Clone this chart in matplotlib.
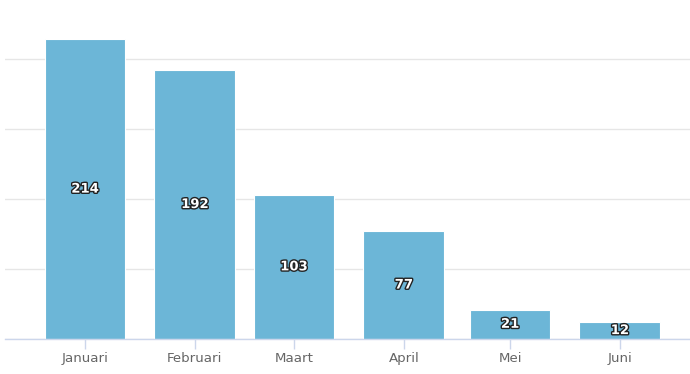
import datetime as dt
import matplotlib
matplotlib.use('Agg')
import matplotlib.pyplot as plt
import matplotlib.dates as mdates
import matplotlib.patheffects as pe

# data
maanden = ['Januari', 'Februari', 'Maart', 'April', 'Mei', 'Juni']
datums = [dt.datetime(2019, m, 1) for m in range(1, 7)]
waarden = [214, 192, 103, 77, 21, 12]

fig = plt.figure(figsize=(6.9, 3.74), dpi=100)
ax = fig.add_axes([5 / 690, 35 / 374, 685 / 690, 339 / 374])

x = mdates.date2num(datums)
bars = ax.bar(x, waarden, width=22.8, color='#6cb6d7', edgecolor='white', linewidth=0.8, zorder=3)

for xi, v in zip(x, waarden):
    ax.text(xi, v / 2, str(v), ha='center', va='center', color='white',
            fontsize=9.5, fontweight='bold', zorder=4,
            path_effects=[pe.withStroke(linewidth=2.0, foreground='#222222')])

ax.set_xlim(x[0] - 22.6, x[-1] + 19.8)
ax.set_ylim(0, 242)
ax.set_yticks([0, 50, 100, 150, 200])
ax.set_yticklabels([])
ax.grid(axis='y', color='#e6e6e6', linewidth=1, zorder=0)
ax.tick_params(axis='y', length=0)

ax.set_xticks(x)
ax.set_xticklabels(maanden)
ax.tick_params(axis='x', length=7.5, width=1, color='#ccd6eb', labelcolor='#666666',
               labelsize=9.6, pad=2)

for s in ['top', 'right', 'left']:
    ax.spines[s].set_visible(False)
ax.spines['bottom'].set_color('#ccd6eb')
ax.spines['bottom'].set_linewidth(1)
ax.spines['bottom'].set_zorder(5)

fig.savefig('out.png', dpi=100)
